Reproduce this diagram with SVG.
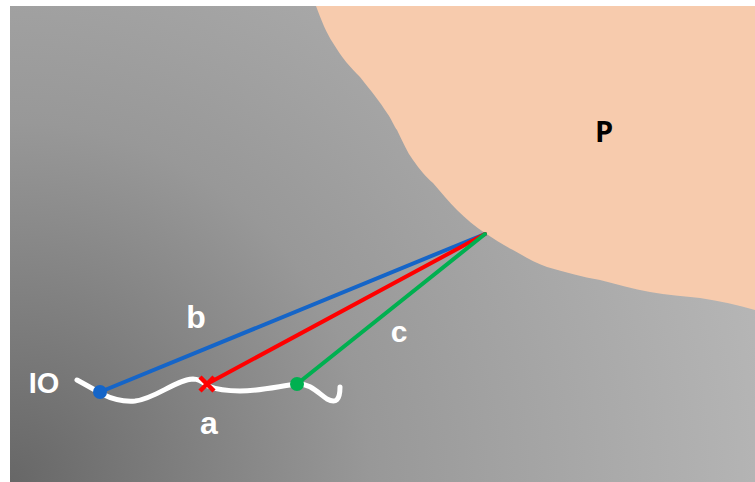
<svg xmlns="http://www.w3.org/2000/svg" width="755" height="482" viewBox="0 0 755 482">
<defs>
<radialGradient id="bg" gradientUnits="userSpaceOnUse" cx="10" cy="482" r="800">
<stop offset="0" stop-color="#676767"/>
<stop offset="0.45" stop-color="#989898"/>
<stop offset="0.6" stop-color="#a1a1a1"/>
<stop offset="1" stop-color="#b8b8b8"/>
</radialGradient>
<style>
.lbl{font-family:"Liberation Sans",Arial,sans-serif;font-weight:bold;fill:#ffffff;text-anchor:middle}
.ray{stroke-width:4;fill:none;stroke-linecap:round}
</style>
</defs>
<rect width="755" height="482" fill="#ffffff"/>
<rect x="10" y="6" width="745" height="476" fill="url(#bg)"/>
<g id="P">
<path d="M316,6 C322,22 326,32 333,43 C342,58 350,67 360,77 C372,92 380,102 387,113 C392,120 394,126 397,130 C403,142 407,152 413,160 C420,170 426,177 433,183 C441,192 449,202 457,210 C466,219 476,227 485,233 C494,239 503,245 513,250 C524,256 535,263 547,267 C565,272 582,277 600,280 C617,284 633,289 650,292 C667,295 684,296 700,298 C720,301 738,305 755,310 L755,6 Z" fill="#f7cbad"/>
<text x="604" y="142" font-family="'Open Sans','Liberation Sans',sans-serif" font-weight="bold" font-size="29" text-anchor="middle" fill="#000000">P</text>
</g>
<g id="IO">
<path d="M77,380 C88,386 95,390 102,394 C112,399 122,402 135,401 C155,399 175,380 193,379 C200,379 204,383 208,386 C218,390 228,391 240,391 C260,391 280,386 297,384 C310,383 318,393 327,399 C336,404 340,400 340,387" fill="none" stroke="#ffffff" stroke-width="5" stroke-linecap="round"/>
<text class="lbl" x="44" y="393" font-size="29">IO</text>
</g>
<g id="connectors">
<line class="ray" x1="485" y1="234" x2="100" y2="392" stroke="#1565c8"/>
<line class="ray" x1="485" y1="234" x2="207" y2="384" stroke="#ff0000"/>
<line class="ray" x1="485" y1="234" x2="297" y2="384" stroke="#00b050"/>
</g>
<g id="blue-point"><circle cx="100" cy="392" r="7" fill="#1565c8"/></g>
<g id="red-point"><path d="M200,377 L214,391 M214,377 L200,391" stroke="#ff0000" stroke-width="4.5" fill="none"/></g>
<g id="green-point"><circle cx="297" cy="384" r="7" fill="#00b050"/></g>
<g id="labels">
<text class="lbl" x="196" y="328" font-size="32">b</text>
<text class="lbl" x="399" y="342" font-size="30">c</text>
<text class="lbl" x="209" y="434" font-size="32">a</text>
</g>
</svg>
